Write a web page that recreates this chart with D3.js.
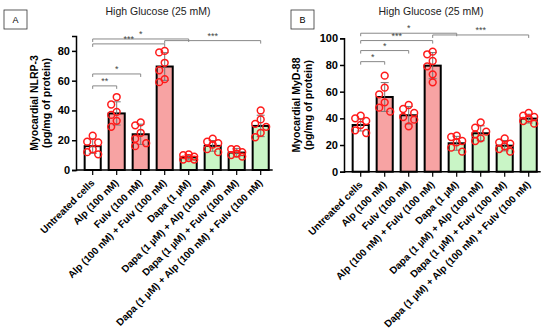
<!DOCTYPE html>
<html>
<head>
<meta charset="utf-8">
<script src="https://cdn.jsdelivr.net/npm/d3@7"></script>
<style>
  body { margin: 0; background: #fff; }
  svg { display: block; font-family: "Liberation Sans", Arial, sans-serif; }
</style>
</head>
<body>
<div id="container"></div>
<script>
const groups = [
  "Untreated cells",
  "Alp (100 nM)",
  "Fulv (100 nM)",
  "Alp (100 nM) + Fulv (100 nM)",
  "Dapa (1 µM)",
  "Dapa (1 µM) + Alp (100 nM)",
  "Dapa (1 µM) + Fulv (100 nM)",
  "Dapa (1 µM) + Alp (100 nM) + Fulv (100 nM)"
];
const groupKind = ["control", "hg", "hg", "hg", "dapa", "dapa", "dapa", "dapa"];

// panel A - NLRP-3
const nlrpMeans = [16, 38, 24, 69.5, 8.5, 16.2, 11.7, 29.6];
const nlrpSD = [4.8, 7.8, 6.8, 9.3, 1.7, 3.6, 2.8, 7.2];
const nlrpPoints = [
  [23, 19, 18.5, 14, 12, 10.5],
  [49, 44, 39, 37, 33, 29],
  [32, 30, 25, 21, 18, 16],
  [80, 79, 72, 67, 61, 59],
  [10.5, 10, 9, 8, 7, 7],
  [21, 19, 18, 17, 14, 12],
  [14, 14, 12, 11, 10, 9],
  [40, 34, 31, 29, 25, 22]
];
const nlrpTicks = [0, 20, 40, 60, 80];
const nlrpComparisons = [
  { from: 0, to: 4, label: "*", level: 88 },
  { from: 0, to: 3, label: "***", level: 84.7 },
  { from: 3, to: 7, label: "***", level: 86.9 },
  { from: 0, to: 2, label: "*", level: 64.5 },
  { from: 0, to: 1, label: "**", level: 56.5 }
];

// panel B - MyD-88
const mydMeans = [35, 56, 42.3, 79.5, 21.3, 28.8, 19.5, 39.8];
const mydSD = [4.5, 10.8, 6.6, 9.8, 5.2, 5.6, 3.9, 3.3];
const mydPoints = [
  [42, 40, 38, 35, 31, 29],
  [72, 63, 58, 52, 48, 45],
  [50, 47, 44, 41, 39, 34],
  [90, 88, 83, 79, 73, 67],
  [27, 26, 23, 22, 18, 15],
  [37, 33, 30, 28, 25, 23],
  [25, 22, 21, 19, 17, 15],
  [44, 42, 41, 40, 38, 36]
];
const mydTicks = [0, 20, 40, 60, 80, 100];
const mydComparisons = [
  { from: 0, to: 4, label: "*", level: 103.8 },
  { from: 0, to: 3, label: "***", level: 98.3 },
  { from: 3, to: 7, label: "***", level: 102.5 },
  { from: 0, to: 2, label: "*", level: 90.8 },
  { from: 0, to: 1, label: "*", level: 82.5 }
];

const kindColor = { control: "#ffffff", hg: "#f7a3a3", dapa: "#c9f5c6" };

const width = 550, height = 336;
const svg = d3.select("#container").append("svg")
  .attr("width", width)
  .attr("height", height);

function drawPanel(opt) {
  const g = svg.append("g");

  const y = d3.scaleLinear()
    .domain([0, opt.yMax])
    .range([opt.bottom, opt.top]);

  const x = d3.scaleBand()
    .domain(d3.range(groups.length))
    .range([opt.axisX + 4.7, opt.axisX + 4.7 + 8 * 24])
    .paddingInner(0.33)
    .paddingOuter(0.165);
  const cx = i => x(i) + x.bandwidth() / 2;

  // letter box
  g.append("rect")
    .attr("x", opt.box[0]).attr("y", opt.box[1])
    .attr("width", 23).attr("height", 19)
    .attr("fill", "none").attr("stroke", "#333").attr("stroke-width", 0.8);
  g.append("text")
    .attr("x", opt.box[0] + 11.5).attr("y", opt.box[1] + 13)
    .attr("text-anchor", "middle")
    .style("font-size", "9px")
    .text(opt.letter);

  g.append("text")
    .attr("x", opt.titleX).attr("y", 15)
    .attr("text-anchor", "middle")
    .style("font-size", "10.5px")
    .attr("fill", "#222")
    .text("High Glucose (25 mM)");

  // bars
  g.selectAll(".bar")
    .data(opt.means)
    .enter().append("rect")
    .attr("x", (d, i) => x(i))
    .attr("y", d => y(d))
    .attr("width", x.bandwidth())
    .attr("height", d => opt.bottom - y(d))
    .attr("fill", (d, i) => kindColor[groupKind[i]])
    .attr("stroke", "#000")
    .attr("stroke-width", 2);

  // error bars
  opt.means.forEach((m, i) => {
    const lo = y(m - opt.sd[i]), hi = y(m + opt.sd[i]);
    g.append("line")
      .attr("x1", cx(i)).attr("x2", cx(i))
      .attr("y1", lo).attr("y2", hi)
      .attr("stroke", "#777").attr("stroke-width", 1);
    [lo, hi].forEach(yy => {
      g.append("line")
        .attr("x1", cx(i) - 4).attr("x2", cx(i) + 4)
        .attr("y1", yy).attr("y2", yy)
        .attr("stroke", "#777").attr("stroke-width", 1);
    });
  });

  // dots, simple swarm so they don't sit on top of each other
  opt.points.forEach((vals, i) => {
    const placed = [];
    vals.forEach(v => {
      const py = y(v);
      let best = 0, bestDist = -1;
      for (const off of [0, -5.5, 5.5]) {
        const dmin = d3.min(placed, p => Math.hypot(p[0] - off, p[1] - py)) ?? Infinity;
        if (dmin >= 8) { best = off; bestDist = Infinity; break; }
        if (dmin > bestDist) { best = off; bestDist = dmin; }
      }
      placed.push([best, py]);
    });
    g.selectAll(null)
      .data(placed)
      .enter().append("circle")
      .attr("cx", d => cx(i) + d[0])
      .attr("cy", d => d[1])
      .attr("r", 3.4)
      .attr("fill", "none")
      .attr("stroke", "#ff1a1a")
      .attr("stroke-width", 1.5);
  });

  // axes
  const yAxis = g.append("g")
    .attr("transform", `translate(${opt.axisX},0)`)
    .call(d3.axisLeft(y).tickValues(opt.ticks).tickSize(4).tickPadding(2));
  yAxis.select(".domain").attr("stroke-width", 1.5);
  yAxis.selectAll(".tick line").attr("stroke-width", 1.5);
  yAxis.selectAll("text")
    .style("font-size", "11px")
    .style("font-weight", "bold")
    .style("font-family", "Liberation Sans, Arial, sans-serif")
    .attr("fill", "#000");

  g.append("line")
    .attr("x1", opt.axisX).attr("x2", opt.axisX + 4.7 + 8 * 24)
    .attr("y1", opt.bottom).attr("y2", opt.bottom)
    .attr("stroke", "#000").attr("stroke-width", 1.5);

  groups.forEach((name, i) => {
    g.append("line")
      .attr("x1", cx(i)).attr("x2", cx(i))
      .attr("y1", opt.bottom).attr("y2", opt.bottom + 5)
      .attr("stroke", "#000").attr("stroke-width", 1.2);
    g.append("text")
      .attr("transform", `translate(${cx(i) + 2.5},${opt.bottom + 13.5}) rotate(-45)`)
      .attr("text-anchor", "end")
      .style("font-size", "10px")
      .style("font-weight", "bold")
      .text(name);
  });

  // y label
  g.append("text")
    .attr("transform", `translate(${opt.labelX},${opt.labelY}) rotate(-90)`)
    .attr("text-anchor", "middle")
    .style("font-size", "10.5px")
    .style("font-weight", "bold")
    .text(opt.yLabel);
  g.append("text")
    .attr("transform", `translate(${opt.labelX + 11.5},${opt.labelY}) rotate(-90)`)
    .attr("text-anchor", "middle")
    .style("font-size", "10.5px")
    .style("font-weight", "bold")
    .text("(pg/mg of protein)");

  // significance brackets
  opt.comparisons.forEach(c => {
    const yy = y(c.level);
    const x1 = cx(c.from), x2 = cx(c.to);
    g.append("path")
      .attr("d", `M${x1},${yy + 3}V${yy}H${x2}V${yy + 3}`)
      .attr("fill", "none")
      .attr("stroke", "#888")
      .attr("stroke-width", 1);
    g.append("text")
      .attr("x", (x1 + x2) / 2)
      .attr("y", yy - 2)
      .attr("text-anchor", "middle")
      .style("font-size", "9px")
      .attr("fill", "#444")
      .text(c.label);
  });
}

drawPanel({
  letter: "A", box: [4, 10], titleX: 158,
  axisX: 76, top: 36, bottom: 170, yMax: 90,
  ticks: nlrpTicks, means: nlrpMeans, sd: nlrpSD, points: nlrpPoints,
  comparisons: nlrpComparisons,
  yLabel: "Myocardial NLRP-3", labelX: 38, labelY: 103
});

drawPanel({
  letter: "B", box: [291, 10], titleX: 431,
  axisX: 344, top: 38.3, bottom: 171.7, yMax: 100,
  ticks: mydTicks, means: mydMeans, sd: mydSD, points: mydPoints,
  comparisons: mydComparisons,
  yLabel: "Myocardial MyD-88", labelX: 300, labelY: 105
});
</script>
</body>
</html>
